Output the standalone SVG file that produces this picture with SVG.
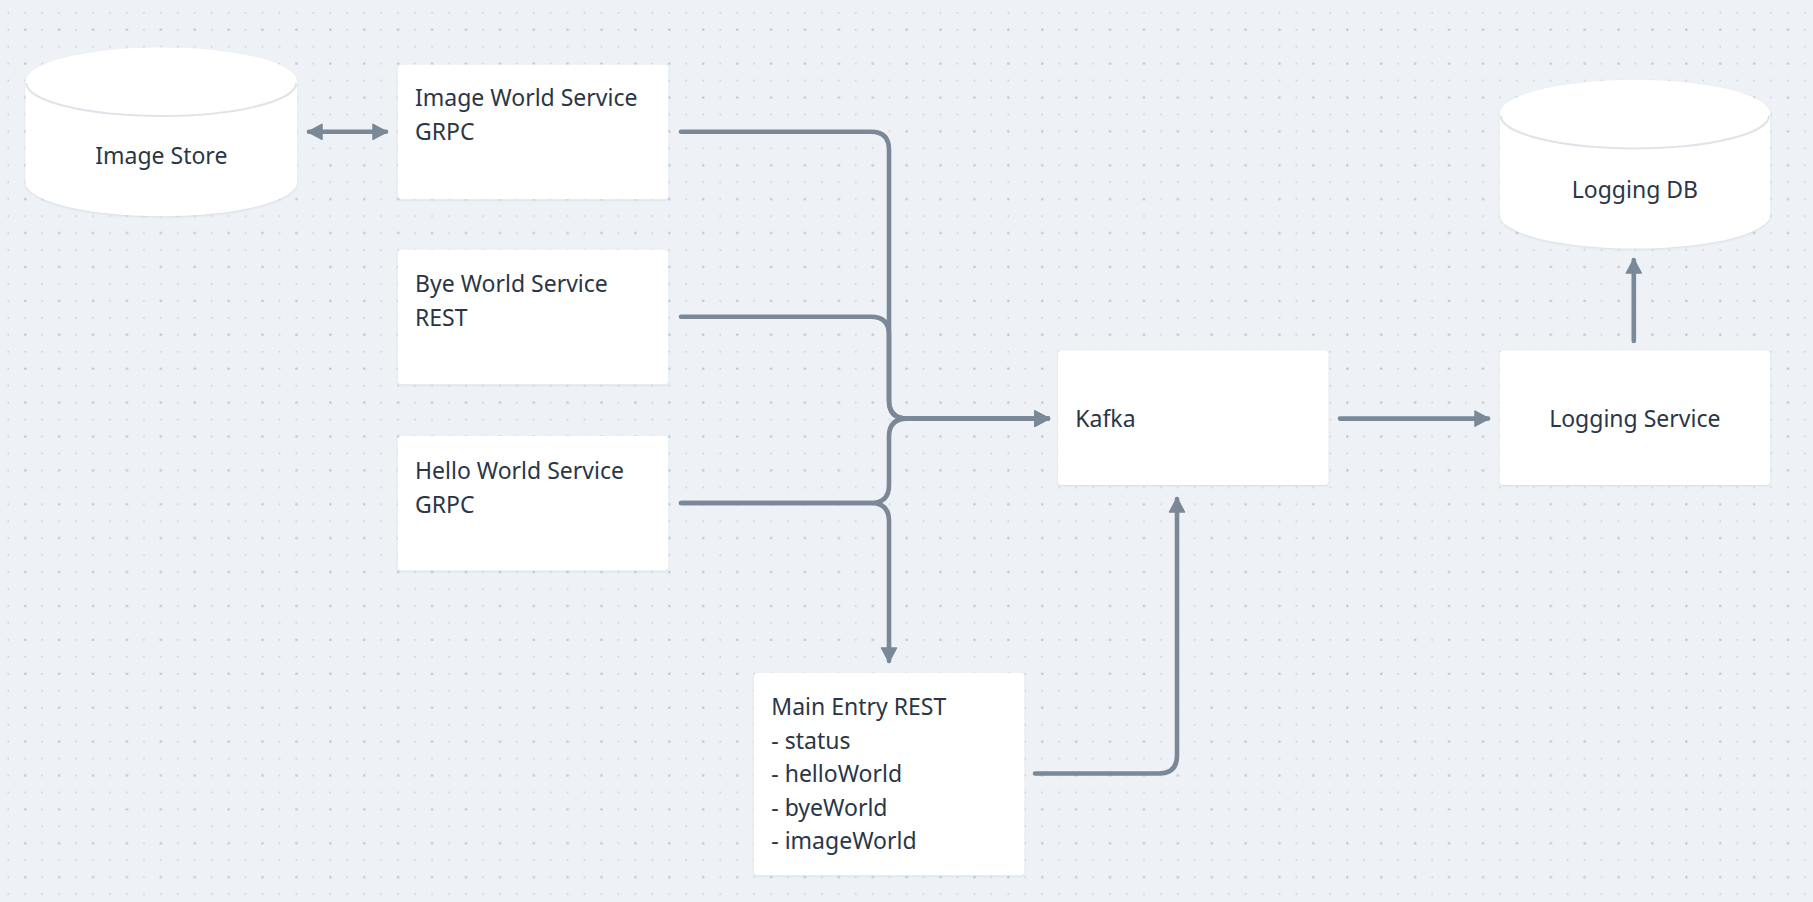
<svg xmlns="http://www.w3.org/2000/svg" width="1813" height="902" viewBox="0 0 1813 902">
<style>
.bg{fill:#eef2f6}
.box{fill:#ffffff;filter:url(#sh)}
.cyl{fill:#ffffff;filter:url(#sh)}
.rim{fill:none;stroke:#dfe4ea;stroke-width:2}
.t{font-family:"Noto Sans","DejaVu Sans",sans-serif;font-size:23px;fill:#2a3646}
.c{text-anchor:middle}
.e{fill:none;stroke:#7a8897;stroke-width:4.6;stroke-linecap:round;stroke-linejoin:round}
</style>
<defs>
<pattern id="dots" patternUnits="userSpaceOnUse" x="0" y="0" width="33.9" height="33.9">
<circle cx="8.3" cy="12.7" r="0.9" fill="#c9d1db"/>
<circle cx="25.25" cy="12.7" r="0.9" fill="#c9d1db"/>
<circle cx="8.3" cy="29.65" r="0.9" fill="#c9d1db"/>
<circle cx="25.25" cy="29.65" r="1.3" fill="#bcc6d2"/>
</pattern>
<filter id="sh" x="-5%" y="-5%" width="110%" height="115%">
<feDropShadow dx="0" dy="1" stdDeviation="1.2" flood-color="#8a97a8" flood-opacity="0.25"/>
</filter>
<marker id="ah" markerUnits="userSpaceOnUse" viewBox="0 0 16 18" refX="14" refY="9" markerWidth="16" markerHeight="18" orient="auto-start-reverse">
<path d="M1,1.5 L15,9 L1,16.5 Z" fill="#7a8897" stroke="#7a8897" stroke-width="1.5" stroke-linejoin="round"/>
</marker>
</defs>
<rect class="bg" x="0" y="0" width="1813" height="902"/>
<rect x="0" y="0" width="1813" height="902" fill="url(#dots)"/>

<g id="image-store">
<path class="cyl" d="M25.4,81.4 A135.9,34 0 0 1 297.2,81.4 V182.2 A135.9,34 0 0 1 25.4,182.2 Z"/>
<path class="rim" d="M26.4,83 A134.9,33 0 0 0 296.2,83"/>
<text class="t c" x="161.3" y="164">Image Store</text>
</g>

<g id="image-world-service">
<rect class="box" x="397.8" y="64.7" width="270.5" height="134.5" rx="4"/>
<text class="t" x="415" y="106">Image World Service</text>
<text class="t" x="415" y="140">GRPC</text>
</g>

<g id="bye-world-service">
<rect class="box" x="397.8" y="249.8" width="270.5" height="134.5" rx="4"/>
<text class="t" x="415" y="292">Bye World Service</text>
<text class="t" x="415" y="326">REST</text>
</g>

<g id="hello-world-service">
<rect class="box" x="397.8" y="435.9" width="270.5" height="134.5" rx="4"/>
<text class="t" x="415" y="478.5">Hello World Service</text>
<text class="t" x="415" y="512.5">GRPC</text>
</g>

<g id="kafka">
<rect class="box" x="1058" y="350.6" width="270.5" height="134.5" rx="4"/>
<text class="t" x="1075.3" y="426.5">Kafka</text>
</g>

<g id="logging-service">
<rect class="box" x="1499.6" y="350.6" width="270.5" height="134.5" rx="4"/>
<text class="t c" x="1634.8" y="426.5">Logging Service</text>
</g>

<g id="logging-db">
<path class="cyl" d="M1499.6,113.8 A135.3,34 0 0 1 1770.2,113.8 V214.6 A135.3,34 0 0 1 1499.6,214.6 Z"/>
<path class="rim" d="M1500.6,115.4 A134.3,33 0 0 0 1769.2,115.4"/>
<text class="t c" x="1634.9" y="197.5">Logging DB</text>
</g>

<g id="main-entry">
<rect class="box" x="753.9" y="673" width="270.5" height="202.3" rx="4"/>
<text class="t" x="771.3" y="715">Main Entry REST</text>
<text class="t" x="771.3" y="748.5">- status</text>
<text class="t" x="771.3" y="782">- helloWorld</text>
<text class="t" x="771.3" y="815.5">- byeWorld</text>
<text class="t" x="771.3" y="849">- imageWorld</text>
</g>

<g id="connectors">
<path class="e" d="M309,131.8 H386" marker-start="url(#ah)" marker-end="url(#ah)"/>
<path class="e" d="M681,131.8 H871 Q889,131.8 889,149.8 V400.6 Q889,418.6 907,418.6 H1048" marker-end="url(#ah)"/>
<path class="e" d="M681,316.8 H871 Q889,316.8 889,334.8 V400.6 Q889,418.6 907,418.6 H1048" marker-end="url(#ah)"/>
<path class="e" d="M681,503 H871 Q889,503 889,485 V436.6 Q889,418.6 907,418.6 H1048" marker-end="url(#ah)"/>
<path class="e" d="M681,503 H871 Q889,503 889,521 V661" marker-end="url(#ah)"/>
<path class="e" d="M1035,773.5 H1159 Q1177,773.5 1177,755.5 V499" marker-end="url(#ah)"/>
<path class="e" d="M1340,418.6 H1488" marker-end="url(#ah)"/>
<path class="e" d="M1633.8,341 V260" marker-end="url(#ah)"/>
</g>
</svg>
